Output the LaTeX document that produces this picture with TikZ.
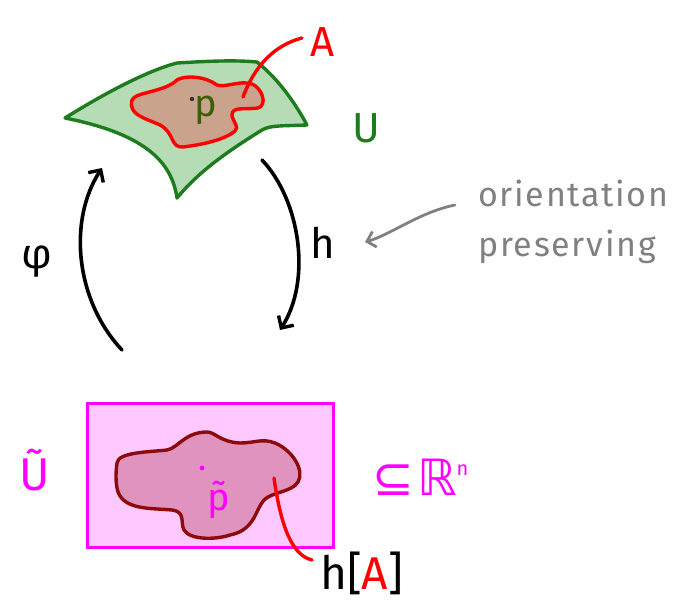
\documentclass[tikz,border=0pt]{standalone}
\usepackage{fontspec}
\setmainfont{Fira Sans}
\newfontfamily\symfont{DejaVu Sans}
\usetikzlibrary{arrows.meta}
\definecolor{ugreen}{HTML}{1E7B1E}
\definecolor{ugreenfill}{HTML}{B5DCB5}
\definecolor{afill}{HTML}{C9A38C}
\definecolor{pgreen}{HTML}{3B5E0A}
\definecolor{mag}{HTML}{FF00FF}
\definecolor{magfill}{HTML}{FFC8FF}
\definecolor{blobfill}{HTML}{E093BE}
\definecolor{blobline}{HTML}{8E0A0A}
\definecolor{graytext}{HTML}{808080}
\tikzset{
  outline/.style={line width=3.4pt, line join=round, line cap=round},
  maparrow/.style={line width=3.6pt, line cap=round, -{Straight Barb[length=9pt,width=18pt,line width=3.4pt]}},
  lbl/.style={inner sep=0pt, font=\fontsize{42}{42}\selectfont},
  note/.style={inner sep=0pt, text=graytext, font=\fontsize{34}{50}\selectfont\addfontfeatures{LetterSpace=5}, align=left},
}
\begin{document}
\begin{tikzpicture}[x=1pt,y=-1pt]
\useasboundingbox (0,0) rectangle (683,604);
% surface U
\draw[outline, draw=ugreen, fill=ugreenfill]
  (65,118) .. controls (110,90) and (150,70) .. (177,63)
  .. controls (210,61) and (235,60) .. (257,62)
  .. controls (280,80) and (298,108) .. (307,125)
  .. controls (285,126) and (270,125) .. (262,130)
  .. controls (230,150) and (200,170) .. (177,198)
  .. controls (172,165) and (150,135) .. (65,118) -- cycle;
% region A
\draw[outline, draw=red, fill=afill]
  (132,100) .. controls (135,92) and (165,92) .. (177,80)
  .. controls (185,75) and (205,76) .. (217,85)
  .. controls (225,88) and (240,80) .. (252,84)
  .. controls (262,88) and (268,105) .. (258,108)
  .. controls (245,110) and (232,106) .. (232,115)
  .. controls (232,120) and (240,128) .. (235,131)
  .. controls (225,140) and (200,145) .. (183,147)
  .. controls (170,148) and (175,133) .. (160,125)
  .. controls (145,118) and (128,115) .. (132,100) -- cycle;
% point p
\fill[black!80] (192,99) circle (2.2pt);
\node[inner sep=0pt, text=pgreen, font=\fontsize{38}{38}\selectfont] (p) at (206,110) {p};
% A pointer
\coordinate (aA) at (243,97);
\coordinate (aEnd) at (302,38);
\draw[outline, draw=red] (aA) .. controls (255,65) and (275,45) .. (aEnd);
\node[lbl, text=red] (A) at (323,42) {A};
\node[lbl, text=ugreen] (U) at (366,128) {U};
% arrows
\coordinate (phiS) at (122,350);
\coordinate (phiE) at (102,168);
\draw[maparrow] (phiS) .. controls (75,300) and (68,220) .. (phiE);
\coordinate (hS) at (262,160);
\coordinate (hE) at (280,330);
\draw[maparrow] (hS) .. controls (300,200) and (312,280) .. (hE);
\node[lbl] (phi) at (37,262) {φ};
\node[lbl] (h) at (323,243) {h};
% note
\node[note, anchor=west] (note) at (478,222) {orientation\\preserving};
\coordinate (nS) at (455,205);
\coordinate (nE) at (365,242);
\draw[line width=2.8pt, draw=graytext, line cap=round, -{Straight Barb[length=8pt,width=16pt,line width=2.8pt]}] (nS) .. controls (420,212) and (390,235) .. (nE);
% rectangle
\draw[line width=3pt, draw=mag, fill=magfill] (87,403) rectangle (333,547);
% blob h[A]
\draw[outline, draw=blobline, fill=blobfill]
  (117,463) .. controls (118,452) and (150,452) .. (167,450)
  .. controls (178,448) and (185,432) .. (207,432)
  .. controls (215,432) and (220,442) .. (240,443)
  .. controls (255,443) and (262,438) .. (275,443)
  .. controls (292,450) and (305,470) .. (298,482)
  .. controls (292,492) and (272,492) .. (264,500)
  .. controls (255,510) and (255,530) .. (230,535)
  .. controls (215,540) and (190,540) .. (184,530)
  .. controls (180,522) and (186,512) .. (172,510)
  .. controls (150,508) and (125,510) .. (118,492)
  .. controls (115,482) and (116,470) .. (117,463) -- cycle;
\fill[mag] (202,468) circle (2.4pt);
\node[inner sep=0pt, text=mag, font=\fontsize{38}{38}\selectfont] (pt) at (219,500) {p̃};
% h[A] pointer
\coordinate (hA1) at (274,478);
\coordinate (hA2) at (312,560);
\draw[outline, draw=red] (hA1) .. controls (280,520) and (290,555) .. (hA2);
\node[lbl, anchor=west, font=\fontsize{46}{46}\selectfont] (hA) at (320,573) {h[\textcolor{red}{A}]};
\node[lbl, text=mag, font=\fontsize{46}{46}\selectfont] (Ut) at (35,470) {Ũ};
\node[lbl, text=mag, anchor=west] (Rn) at (372,477) {{\symfont\fontsize{50}{50}\selectfont ⊆\hspace{3pt}ℝ}\raisebox{20pt}{\fontsize{20}{20}\selectfont n}};
\end{tikzpicture}
\end{document}
